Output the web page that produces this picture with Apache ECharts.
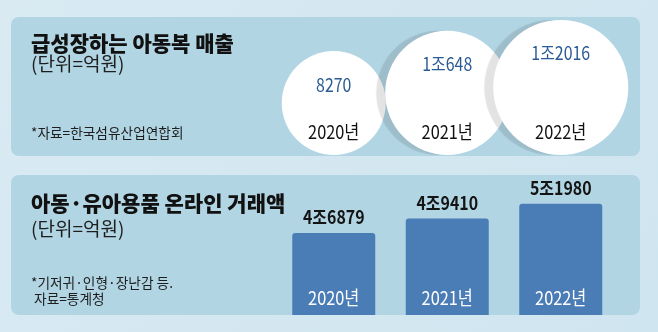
<!DOCTYPE html>
<html>
<head>
<meta charset="utf-8">
<script src="https://cdn.jsdelivr.net/npm/echarts@6/dist/echarts.min.js"></script>
<style>html,body{margin:0;padding:0;}#c{width:658px;height:332px;}</style>
</head>
<body>
<div id="c"></div>
<script>
// ---- data ----
const years = ['2020년', '2021년', '2022년'];
const apparelSales = [8270, 10648, 12016];      // 아동복 매출 (억원)
const onlineSales = [46879, 49410, 51980];      // 아동·유아용품 온라인 거래액 (억원)
const texts = {
  title1: '급성장하는 아동복 매출',
  unit: '(단위=억원)',
  src1: '*자료=한국섬유산업연합회',
  title2: '아동·유아용품 온라인 거래액',
  note2: '*기저귀·인형·장난감 등.',
  src2: ' 자료=통계청'
};

function fmtKor(v) {
  return v >= 10000 ? Math.floor(v / 10000) + '조' + (v % 10000) : String(v);
}
const KR_FONT = "'Noto Sans CJK KR',sans-serif";
const NARROW = 0.86;
const Y2_MIN = 32600, Y2_MAX = 57000;

function circleSize(v) { return 104 * Math.pow(v / apparelSales[0], 0.7); }

const circleData = apparelSales.map((v, i) => {
  const d = circleSize(v);
  const item = {
    value: [years[i], 0, v],
    symbolSize: d,
    symbolOffset: [0, -d / 2]
  };
  if (i > 0) item.itemStyle = { shadowColor: 'rgba(0,0,0,0.11)', shadowOffsetX: -9, shadowBlur: 1 };
  return item;
});

const chart = echarts.init(document.getElementById('c'), null, { renderer: 'canvas' });

function txt(x, y, s, font, fill) {
  return { type: 'text', x: x, y: y, z: 10, style: { text: s, font: font, fill: fill || '#141414', verticalAlign: 'middle' } };
}
function ntext(x, y, s, font, fill) {
  return { type: 'text', x: x, y: y, scaleX: NARROW, style: { text: s, font: font, fill: fill, align: 'center', verticalAlign: 'middle' } };
}

chart.setOption({
  animation: false,
  backgroundColor: {
    type: 'linear', x: 0, y: 0, x2: 1, y2: 1,
    colorStops: [{ offset: 0, color: '#d9eaf3' }, { offset: 1, color: '#cfe5ef' }]
  },
  graphic: [
    { type: 'rect', shape: { x: 11, y: 17, width: 629, height: 139, r: 8 }, style: { fill: '#b1d5e3' }, z: -10 },
    { type: 'rect', shape: { x: 11, y: 175, width: 629, height: 140, r: 8 }, style: { fill: '#b1d5e3' }, z: -10 },
    txt(31, 43, texts.title1, "900 21px " + KR_FONT, '#111111'),
    txt(31, 64, texts.unit, "19px " + KR_FONT, '#1e1e1e'),
    txt(31, 133, texts.src1, "13.7px " + KR_FONT, '#1e1e1e'),
    txt(31, 203, texts.title2, "900 21px " + KR_FONT, '#111111'),
    txt(31, 229, texts.unit, "19px " + KR_FONT, '#1e1e1e'),
    txt(31, 283, texts.note2, "13.7px " + KR_FONT, '#1e1e1e'),
    txt(31, 299, texts.src2, "13.7px " + KR_FONT, '#1e1e1e')
  ],
  grid: [
    { left: 277, right: 40.5, top: 17, bottom: 177 },
    { left: 277, right: 40.5, top: 175, bottom: 17 }
  ],
  xAxis: [
    { type: 'category', gridIndex: 0, data: years, show: false },
    { type: 'category', gridIndex: 1, data: years, show: false }
  ],
  yAxis: [
    { type: 'value', gridIndex: 0, min: 0, max: 1, show: false },
    { type: 'value', gridIndex: 1, min: Y2_MIN, max: Y2_MAX, show: false }
  ],
  series: [
    {
      type: 'scatter', xAxisIndex: 0, yAxisIndex: 0,
      symbol: 'circle',
      itemStyle: { color: '#ffffff', opacity: 1 },
      data: circleData, z: 3
    },
    {
      type: 'custom', xAxisIndex: 0, yAxisIndex: 0, z: 6, silent: true, clip: false,
      data: apparelSales.map((v, i) => [i, 0, v]),
      renderItem: (params, api) => {
        const v = api.value(2);
        const p = api.coord([api.value(0), 0]);
        const d = circleSize(v);
        return {
          type: 'group', children: [
            ntext(p[0], p[1] - d + 33.5, fmtKor(v), "18.5px " + KR_FONT, '#2b5b95'),
            ntext(p[0], p[1] - 23, years[params.dataIndex], "19px " + KR_FONT, '#111111')
          ]
        };
      }
    },
    {
      type: 'bar', xAxisIndex: 1, yAxisIndex: 1,
      barWidth: 83,
      itemStyle: { color: '#4a7cb6', borderRadius: [3, 3, 0, 0] },
      data: onlineSales
    },
    {
      type: 'custom', xAxisIndex: 1, yAxisIndex: 1, z: 6, silent: true, clip: false,
      data: onlineSales.map((v, i) => [i, v]),
      renderItem: (params, api) => {
        const top = api.coord([api.value(0), api.value(1)]);
        const base = api.coord([api.value(0), Y2_MIN]);
        return {
          type: 'group', children: [
            ntext(top[0], top[1] - 16, fmtKor(api.value(1)), "bold 18.5px " + KR_FONT, '#141414'),
            ntext(base[0], base[1] - 17, years[params.dataIndex], "19px " + KR_FONT, '#ffffff')
          ]
        };
      }
    }
  ]
});
</script>
</body>
</html>
